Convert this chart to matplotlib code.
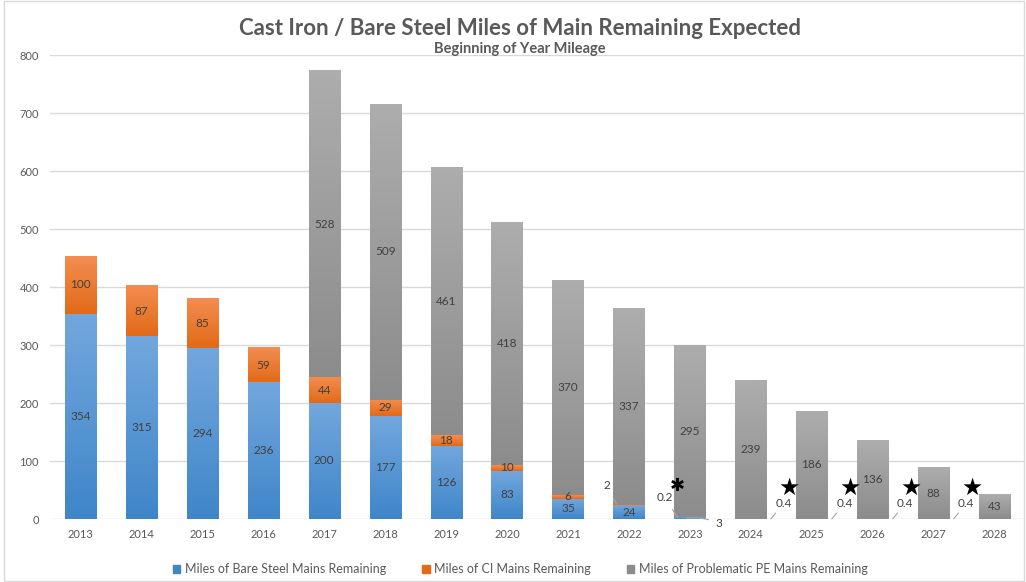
import numpy as np
import matplotlib
matplotlib.use('Agg')
import matplotlib.pyplot as plt
from matplotlib.colors import LinearSegmentedColormap
from matplotlib.patches import Rectangle

# data (beginning of year mileage)
years = ['2013', '2014', '2015', '2016', '2017', '2018', '2019', '2020',
         '2021', '2022', '2023', '2024', '2025', '2026', '2027', '2028']
bare_steel = [354, 315, 294, 236, 200, 177, 126, 83, 35, 24, 3, 0, 0, 0, 0, 0]
cast_iron = [100, 87, 85, 59, 44, 29, 18, 10, 6, 2, 0.2, 0.4, 0.4, 0.4, 0.4, 0]
prob_pe = [0, 0, 0, 0, 528, 509, 461, 418, 370, 337, 295, 239, 186, 136, 88, 43]
series_names = ['Miles of Bare Steel Mains Remaining',
                'Miles of CI Mains Remaining',
                'Miles of Problematic PE Mains Remaining']

plt.rcParams['font.family'] = ['Lato', 'DejaVu Sans']

fig = plt.figure(figsize=(10.26, 5.82), dpi=100)
ax = fig.add_axes([50/1026, 1 - 519/582, 975/1026, 464/582])

x = np.arange(len(years))
w = 0.51
bs = np.array(bare_steel, float)
ci = np.array(cast_iron, float)
pe = np.array(prob_pe, float)

grads = [('#72a7dd', '#3f86c9'), ('#f38d50', '#e26a18'), ('#adadad', '#8c8c8c')]
b1 = ax.bar(x, bs, w, color=grads[0][1], zorder=2)
b2 = ax.bar(x, ci, w, bottom=bs, color=grads[1][1], zorder=2)
b3 = ax.bar(x, pe, w, bottom=bs + ci, color=grads[2][1], zorder=2)

# excel style vertical gradient on each segment
for bars, (ctop, cbot) in zip([b1, b2, b3], grads):
    cm = LinearSegmentedColormap.from_list('g', [ctop, cbot])
    for p in bars:
        if p.get_height() <= 0:
            continue
        ax.imshow(np.linspace(0, 1, 64)[:, None], cmap=cm, aspect='auto',
                  origin='upper', zorder=2.5,
                  extent=(p.get_x(), p.get_x() + p.get_width(),
                          p.get_y(), p.get_y() + p.get_height()))

ax.set_xlim(-0.5, len(years) - 0.5)
ax.set_ylim(0, 800)
ax.set_yticks(range(0, 801, 100))
ax.set_xticks(x, years)
ax.grid(axis='y', color='#d9d9d9', lw=1, zorder=0)
ax.set_axisbelow(True)
for s in ax.spines.values():
    s.set_visible(False)
ax.tick_params(length=0, labelsize=8, colors='#595959')
ax.tick_params(axis='y', pad=8)
ax.tick_params(axis='x', pad=7)

lab = dict(ha='center', va='center', fontsize=8.5, color='#404040', zorder=4)
for i in range(len(years)):
    if bs[i] >= 5:
        ax.text(i, bs[i] / 2, f'{bare_steel[i]:g}', **lab)
    if ci[i] >= 5:
        ax.text(i, bs[i] + ci[i] / 2, f'{cast_iron[i]:g}', **lab)
    if pe[i] > 0:
        ax.text(i, bs[i] + ci[i] + pe[i] / 2, f'{prob_pe[i]:g}', **lab)

# small values with leader lines
lead = dict(arrowstyle='-', color='#a6a6a6', lw=0.8, shrinkA=3, shrinkB=0)
small = dict(fontsize=8.5, color='#404040', ha='center', va='center', zorder=5)
ax.annotate(f'{cast_iron[9]:g}', xy=(9 - w/2 + 0.05, bs[9] + ci[9]), xytext=(-7, 13),
            textcoords='offset points', arrowprops=lead, **small)
ax.annotate(f'{cast_iron[10]:g}', xy=(10 - w/2 + 0.05, bs[10] + ci[10]),
            xytext=(-9, 14), textcoords='offset points', arrowprops=lead, **small)
ax.annotate(f'{bare_steel[10]:g}', xy=(10 - 0.05, bs[10] / 2), xytext=(23, -4),
            textcoords='offset points', arrowprops=dict(lead, connectionstyle='arc3,rad=0.15'),
            **small)
for i in range(11, 15):
    ax.annotate(f'{cast_iron[i]:g}', xy=(i + 0.33, ci[i] / 2), xytext=(9, 11),
                textcoords='offset points', arrowprops=lead,
                bbox=dict(fc='white', ec='none', pad=0.5), **small)
    ax.text(i + 0.63, 54, '\u2605', fontsize=17, ha='center', va='center',
            color='black', family='DejaVu Sans', zorder=6)
ax.text(10 - 0.2, 57, '\u2731', fontsize=13, ha='center', va='center',
        color='black', family='DejaVu Sans', zorder=6)

fig.text(0.507, 0.951, 'Cast Iron / Bare Steel Miles of Main Remaining Expected',
         ha='center', va='center', fontsize=16, fontweight='bold', color='#595959')
fig.text(0.507, 0.916, 'Beginning of Year Mileage', ha='center', va='center',
         fontsize=10.5, fontweight='bold', color='#595959')

handles = [Rectangle((0, 0), 1, 1, color=c[1]) for c in grads]
fig.legend(handles, series_names, loc='center', ncol=3,
           bbox_to_anchor=(0.507, 1 - 569/582), frameon=False,
           fontsize=9, labelcolor='#595959', handlelength=0.6,
           handleheight=0.6, handletextpad=0.35, columnspacing=2.9,
           borderpad=0, borderaxespad=0)

fig.patches.append(Rectangle((0.004, 0.002), 0.994, 0.996, transform=fig.transFigure,
                             fill=False, ec='#d9d9d9', lw=1))

fig.savefig('out.png', dpi=100)
